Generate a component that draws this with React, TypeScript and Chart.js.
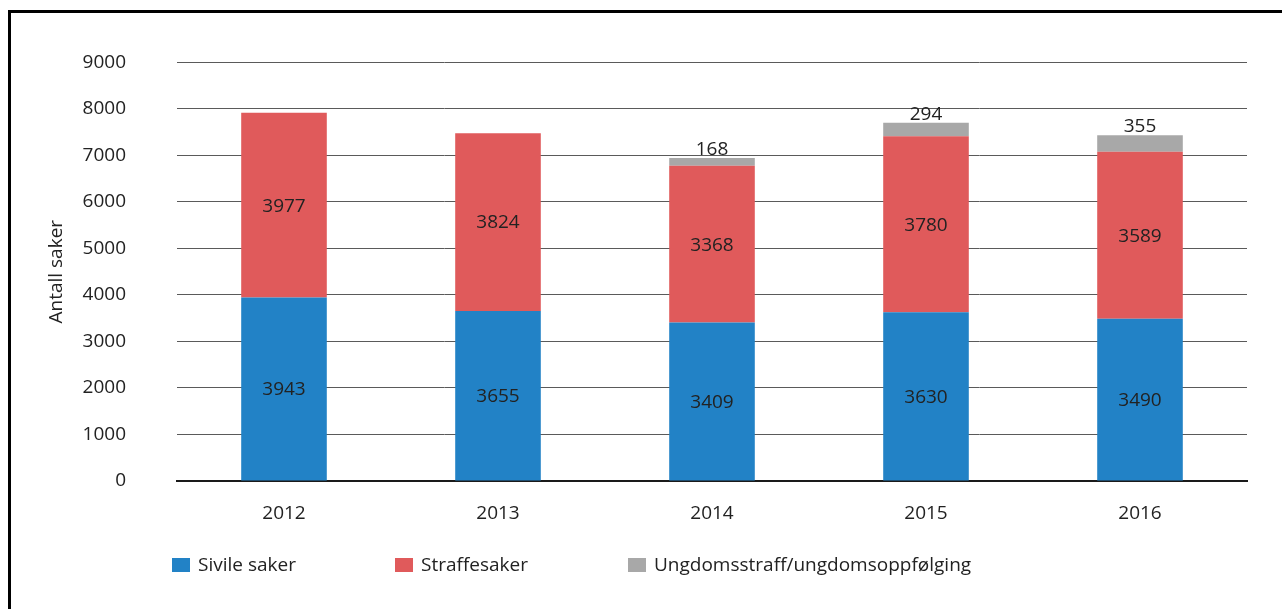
import React, { useEffect, useRef } from "react";
import { Chart, registerables } from "chart.js";

Chart.register(...registerables);

const categories = ["2012", "2013", "2014", "2015", "2016"];
const sivile = [3943, 3655, 3409, 3630, 3490];
const straffe = [3977, 3824, 3368, 3780, 3589];
const ungdom = [0, 0, 168, 294, 355];
const seriesNames = ["Sivile saker", "Straffesaker", "Ungdomsstraff/ungdomsoppfølging"];
const seriesColors = ["#2282c6", "#e05a5b", "#a8a8a8"];

const FONT = "'Open Sans', 'Noto Sans', sans-serif";
const FSIZE = 19;

const labelsPlugin = {
  id: "segLabels",
  afterDatasetsDraw(chart: any) {
    const ctx = chart.ctx;
    ctx.save();
    ctx.font = `${FSIZE}px ${FONT}`;
    ctx.fillStyle = "#222";
    ctx.textAlign = "center";
    chart.data.datasets.forEach((ds: any, di: number) => {
      const meta = chart.getDatasetMeta(di);
      meta.data.forEach((bar: any, i: number) => {
        const v = ds.data[i];
        if (!v) return;
        if (di === 2) {
          ctx.textBaseline = "alphabetic";
          ctx.fillText(String(v), bar.x, bar.y - 3);
        } else {
          ctx.textBaseline = "middle";
          ctx.fillText(String(v), bar.x, (bar.y + bar.base) / 2 + 1);
        }
      });
    });
    ctx.restore();
  },
};

const legendPlugin = {
  id: "customLegend",
  afterDraw(chart: any) {
    const ctx = chart.ctx;
    const boxX = [172, 395, 628];
    ctx.save();
    ctx.font = `${FSIZE}px ${FONT}`;
    ctx.textBaseline = "middle";
    ctx.textAlign = "left";
    seriesNames.forEach((name, i) => {
      ctx.fillStyle = seriesColors[i];
      ctx.fillRect(boxX[i], 558, 18, 14);
      ctx.fillStyle = "#222";
      ctx.fillText(name, boxX[i] + 26, 566);
    });
    ctx.restore();
  },
};

export default function App() {
  const ref = useRef<HTMLCanvasElement | null>(null);
  useEffect(() => {
    document.body.style.margin = "0";
    const chart = new Chart(ref.current!, {
      type: "bar",
      data: {
        labels: categories,
        datasets: [
          { label: seriesNames[0], data: sivile, backgroundColor: seriesColors[0] },
          { label: seriesNames[1], data: straffe, backgroundColor: seriesColors[1] },
          { label: seriesNames[2], data: ungdom, backgroundColor: seriesColors[2] },
        ].map((d) => ({ ...d, barPercentage: 0.8, categoryPercentage: 0.5, borderWidth: 0 })),
      },
      options: {
        animation: false,
        responsive: false,
        maintainAspectRatio: false,
        layout: { padding: { top: 56, right: 35, left: 0, bottom: 0 } },
        plugins: { legend: { display: false }, tooltip: { enabled: false } },
        scales: {
          x: {
            stacked: true,
            grid: { display: false, drawTicks: false },
            border: { display: true, color: "#1a1a1a", width: 2 },
            ticks: { color: "#222", font: { family: FONT, size: FSIZE }, padding: 21 },
            afterFit: (s: any) => { s.height = 128; },
          },
          y: {
            stacked: true,
            min: 0,
            max: 9000,
            grid: { color: "#5a5a5a", lineWidth: 1, drawTicks: false },
            border: { display: false },
            ticks: { stepSize: 1000, color: "#222", font: { family: FONT, size: FSIZE }, padding: 51, callback: (v: any) => String(v) },
            title: { display: true, text: "Antall saker", color: "#222", font: { family: FONT, size: FSIZE }, padding: { top: 45, bottom: 0 } },
            afterFit: (s: any) => { s.width = 177; },
          },
        },
      },
      plugins: [labelsPlugin, legendPlugin],
    });
    return () => chart.destroy();
  }, []);
  return (
    <div style={{ position: "relative", width: 1282, height: 609, overflow: "hidden", background: "#fff" }}>
      <div style={{ position: "absolute", left: 8, top: 10, width: 1400, height: 800, border: "3px solid #000", boxSizing: "border-box" }} />
      <canvas ref={ref} width={1282} height={609} style={{ position: "absolute", left: 0, top: 0 }} />
    </div>
  );
}
